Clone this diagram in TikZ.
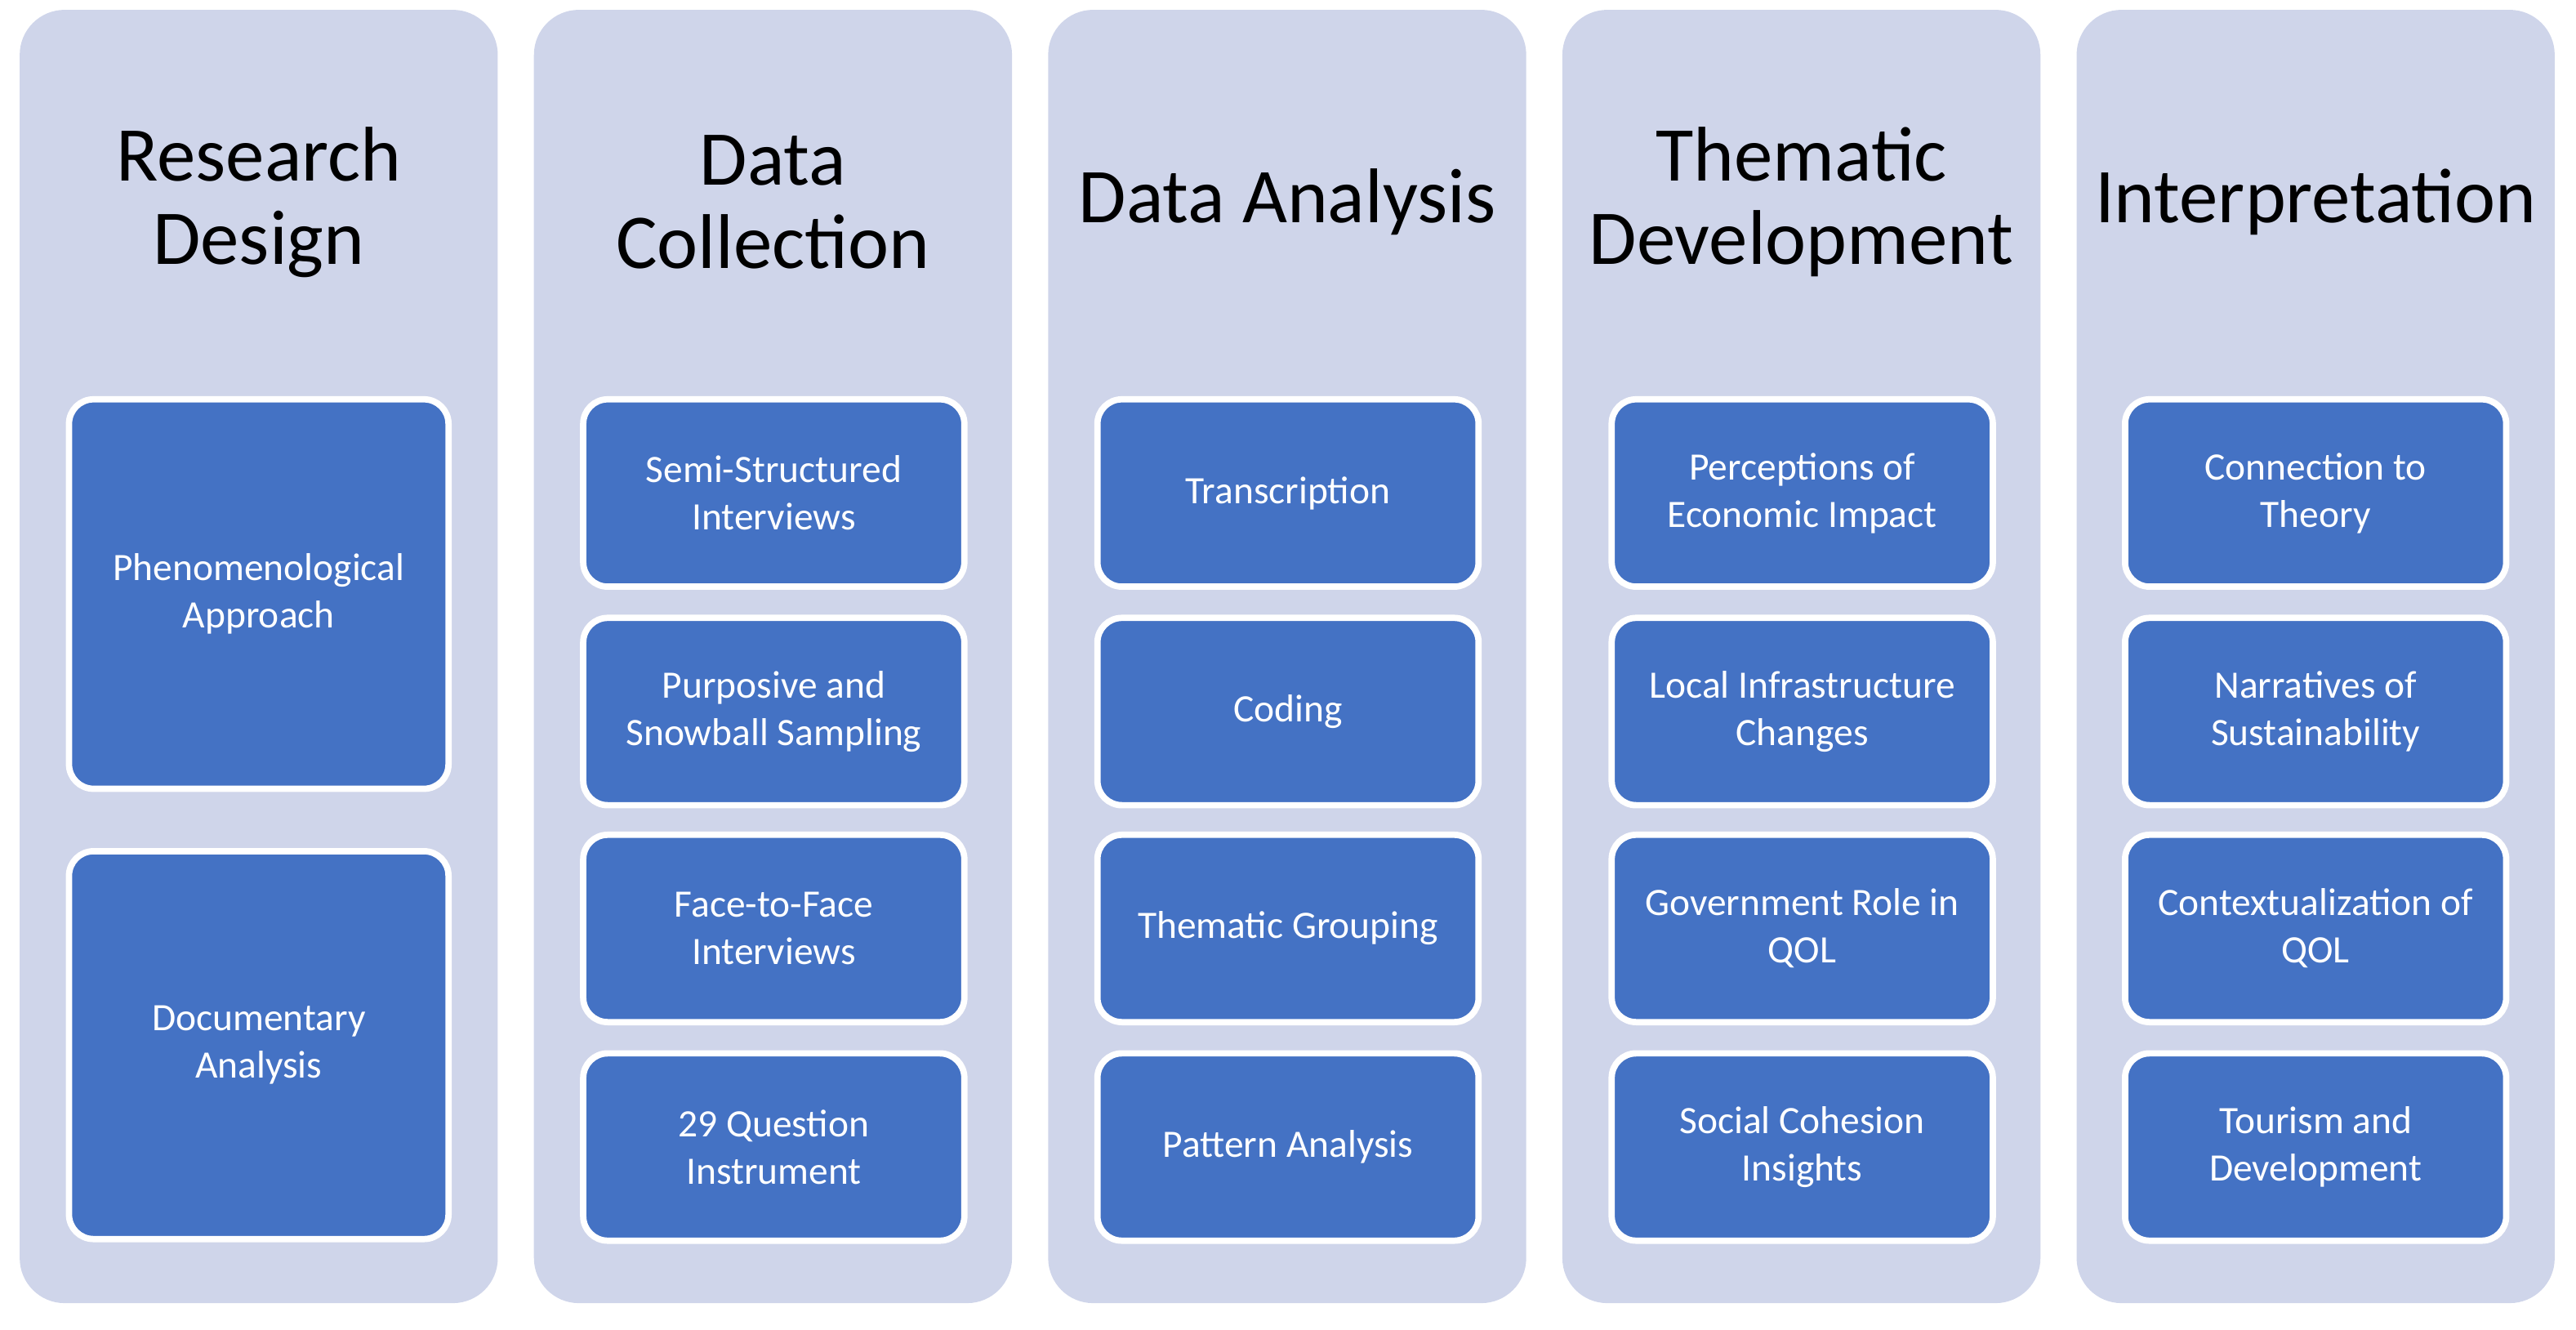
\documentclass[tikz,border=0pt]{standalone}
\usepackage{fontspec}
\setmainfont{Carlito}
\begin{document}
\begin{tikzpicture}[x=0.020115cm,y=-0.020115cm,
 col/.style={fill=colbg,draw=none,rounded corners=0.55cm},
 box/.style={fill=boxblue,draw=white,line width=2.2pt,rounded corners=0.3cm,text=white,align=center,font=\fontsize{13.5}{16.5}\selectfont},
 ttl/.style={align=center,font=\fontsize{27}{29}\selectfont,text=black}]
\definecolor{colbg}{HTML}{CFD5EA}
\definecolor{boxblue}{HTML}{4472C4}
\useasboundingbox (0,0) rectangle (1568,809);
\foreach \x/\n in {12/c1,325/c2,638/c3,951/c4,1264/c5}{
  \fill[col] (\x,6) rectangle ++(291,787);
}
\node[ttl] (t1) at (157.5,123) {Research\\Design};
\node[ttl] (t2) at (470.5,123) {Data\\Collection};
\node[ttl] (t3) at (783.5,123) {Data Analysis};
\node[ttl] (t4) at (1096.5,123) {Thematic\\Development};
\node[ttl] (t5) at (1409.5,123) {Interpretation};
% column 1
\draw[box] (42,243) rectangle (273,480);
\node[box,draw=none,fill=none] (a1) at (157.5,361.5) {Phenomenological\\Approach};
\draw[box] (42,518) rectangle (273,754);
\node[box,draw=none,fill=none] (a2) at (157.5,636) {Documentary\\Analysis};
% other columns
\foreach \cx/\c in {471/2,784/3,1097/4,1409.5/5}{
  \foreach \ya/\r in {243/1,376/2,508/3,641/4}{
    \draw[box] (\cx-116,\ya) rectangle (\cx+116,\ya+114);
  }
}
\foreach \cx/\c/\la/\lb/\lc/\ld in {
 471/2/{Semi-Structured\\Interviews}/{Purposive and\\Snowball Sampling}/{Face-to-Face\\Interviews}/{29 Question\\Instrument},
 784/3/{Transcription}/{Coding}/{Thematic Grouping}/{Pattern Analysis},
 1097/4/{Perceptions of\\Economic Impact}/{Local Infrastructure\\Changes}/{Government Role in\\QOL}/{Social Cohesion\\Insights},
 1409.5/5/{Connection to\\Theory}/{Narratives of\\Sustainability}/{Contextualization of\\QOL}/{Tourism and\\Development}}{
  \node[box,draw=none,fill=none] (b\c1) at (\cx,300) {\la};
  \node[box,draw=none,fill=none] (b\c2) at (\cx,433) {\lb};
  \node[box,draw=none,fill=none] (b\c3) at (\cx,565) {\lc};
  \node[box,draw=none,fill=none] (b\c4) at (\cx,698) {\ld};
}
\end{tikzpicture}
\end{document}
